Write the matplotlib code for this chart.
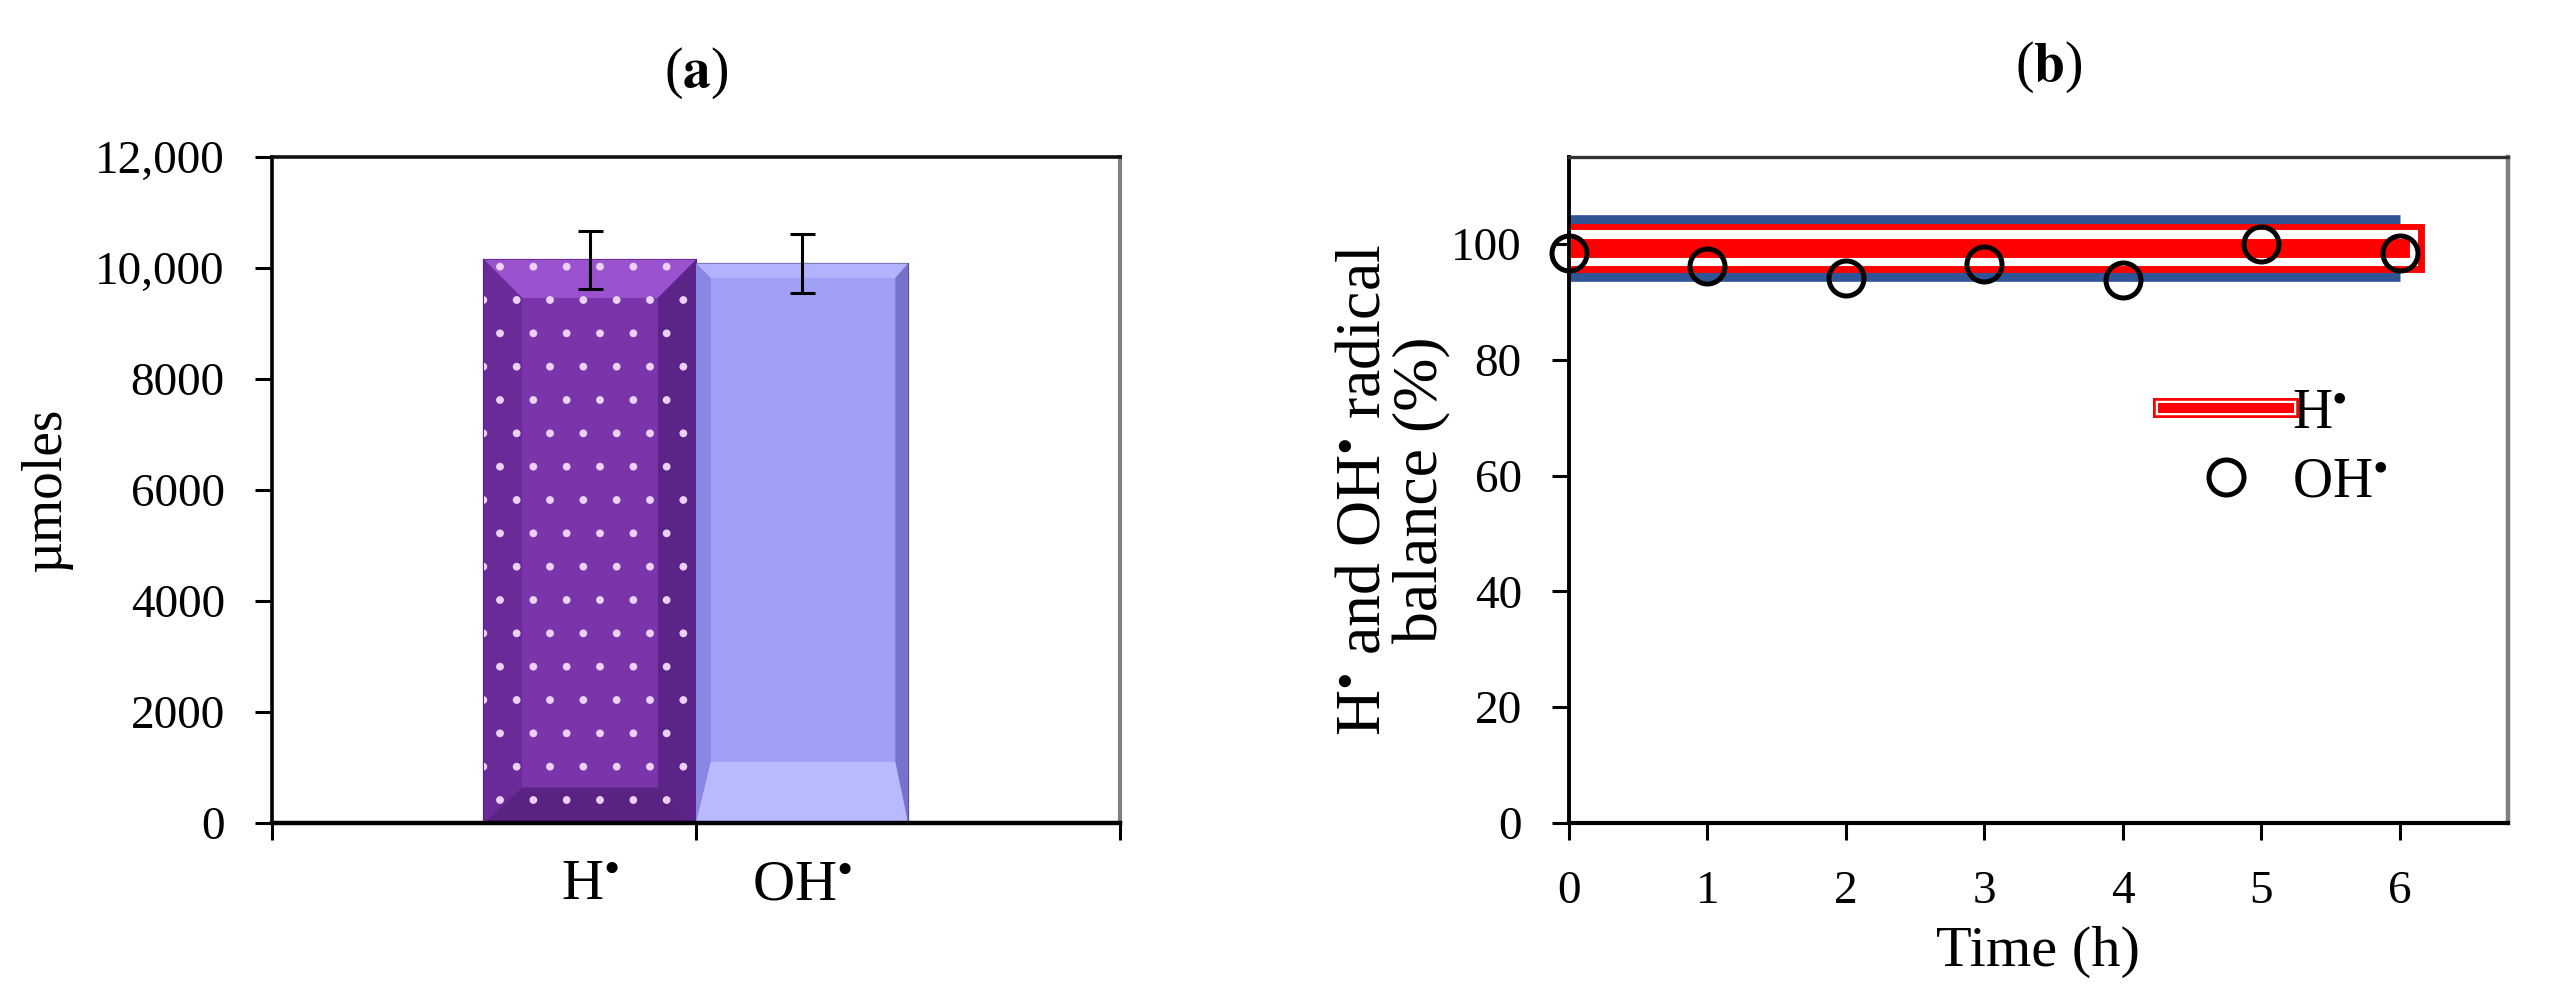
import matplotlib
matplotlib.use('Agg')
import matplotlib.pyplot as plt
import numpy as np
from matplotlib.patches import Polygon
from matplotlib.lines import Line2D
from matplotlib.legend_handler import HandlerTuple

plt.rcParams['font.family'] = ['Liberation Serif', 'DejaVu Serif']
plt.rcParams['mathtext.fontset'] = 'stix'
plt.rcParams['hatch.linewidth'] = 0.4

# ---------------- data: panel (a) ----------------
categories_a = ['H$^{\\bullet}$', 'OH$^{\\bullet}$']
values_a = [10150, 10080]
errors_a = [520, 530]
yticks_a = [0, 2000, 4000, 6000, 8000, 10000, 12000]
yticklabels_a = ['0', '2000', '4000', '6000', '8000', '10,000', '12,000']

# ---------------- data: panel (b) ----------------
time_h = [0, 1, 2, 3, 4, 5, 6]
h_balance = [99.3, 99.3, 99.3, 99.3, 99.3, 99.3, 99.3]
oh_balance = [98.4, 96.2, 94.1, 96.5, 93.8, 100.0, 98.4]
yticks_b = [0, 20, 40, 60, 80, 100]
xticks_b = [0, 1, 2, 3, 4, 5, 6]

DPI = 200
fig = plt.figure(figsize=(2557 / DPI, 1008 / DPI), dpi=DPI)
fig.patch.set_facecolor('white')

ax_a = fig.add_axes([272 / 2557, 1 - 823 / 1008, (1120 - 272) / 2557, (823 - 157) / 1008])
ax_b = fig.add_axes([1569 / 2557, 1 - 823 / 1008, (2508 - 1569) / 2557, (823 - 157) / 1008])

# ---------------- panel (a) ----------------
bar_w = 0.5
xpos = 1.0 + (np.arange(len(categories_a)) - 0.5) * bar_w
styles = [
    dict(base='#7a35aa', top='#9a52cf', left='#6a2a98', right='#5c2388', bot='#5a2282',
         ins=(0.09, 0.09, 690, 640), hatch=True, edge='#5a2282'),
    dict(base='#a0a0f7', top='#b2b2ff', left='#8888e4', right='#7474cc', bot='#b9b9ff',
         ins=(0.035, 0.03, 260, 1100), hatch=False, edge='#55558a'),
]
bars = ax_a.bar(xpos, values_a, width=bar_w, color=[s['base'] for s in styles],
                edgecolor=[s['edge'] for s in styles], linewidth=0.8, zorder=2)
for rect, s in zip(bars, styles):
    x0 = rect.get_x()
    x1 = x0 + rect.get_width()
    h = rect.get_height()
    dxl, dxr, dyt, dyb = s['ins']
    pieces = [
        ([(x0, h), (x1, h), (x1 - dxr, h - dyt), (x0 + dxl, h - dyt)], s['top']),
        ([(x0, 0), (x0, h), (x0 + dxl, h - dyt), (x0 + dxl, dyb)], s['left']),
        ([(x1, 0), (x1, h), (x1 - dxr, h - dyt), (x1 - dxr, dyb)], s['right']),
        ([(x0, 0), (x1, 0), (x1 - dxr, dyb), (x0 + dxl, dyb)], s['bot']),
    ]
    for pts, c in pieces:
        ax_a.add_patch(Polygon(pts, closed=True, facecolor=c, edgecolor='none', zorder=2.1))
    if s['hatch']:
        ax_a.bar(rect.get_x() + rect.get_width() / 2, h, width=rect.get_width(),
                 facecolor='none', edgecolor='#ecd2f7', linewidth=0, hatch='.', zorder=2.2)

ax_a.errorbar(xpos, values_a, yerr=errors_a, fmt='none', ecolor='black',
              elinewidth=1.1, capsize=4.5, capthick=1.1, zorder=5)

ax_a.set_xlim(0, 2)
ax_a.set_ylim(0, 12000)
ax_a.set_yticks(yticks_a)
ax_a.set_yticklabels(yticklabels_a)
ax_a.set_xticks([0, 1, 2])
ax_a.set_xticklabels(['', '', ''])
ax_a.set_xticks(xpos, minor=True)
ax_a.set_xticklabels(categories_a, minor=True)
ax_a.tick_params(axis='both', which='major', direction='out', length=6, width=1.1,
                 labelsize=17, pad=11, color='black')
ax_a.tick_params(axis='x', which='minor', length=0, labelsize=21, pad=13)
for side, c, lw in [('left', 'black', 1.3), ('bottom', 'black', 1.6),
                    ('top', '#111111', 1.3), ('right', '#808080', 1.5)]:
    ax_a.spines[side].set_color(c)
    ax_a.spines[side].set_linewidth(lw)
ax_a.set_ylabel('\u00b5moles', fontsize=20, rotation=90, ha='center')
ax_a.yaxis.set_label_coords(-0.236, 0.5)
ax_a.text(0.5, 1.126, '($\\mathbf{a}$)', transform=ax_a.transAxes, ha='center',
          va='center', fontsize=20)

# ---------------- panel (b) ----------------
ax_b.plot(time_h, h_balance, color='#2f5597', lw=24, solid_capstyle='butt', zorder=2)
ax_b.plot(time_h, h_balance, color='#ff0000', lw=17.6, solid_capstyle='projecting', zorder=2.1)
ax_b.plot(time_h, h_balance, color='#ffffff', lw=13, solid_capstyle='projecting', zorder=2.2)
ax_b.plot(time_h, h_balance, color='#ff0000', lw=6.8, solid_capstyle='projecting', zorder=2.3)
ax_b.plot(time_h, oh_balance, ls='none', marker='o', ms=12.6, mfc='none', mec='black',
          mew=1.8, zorder=5, clip_on=False)

ax_b.set_xlim(0, 6.78)
ax_b.set_ylim(0, 115)
ax_b.set_xticks(xticks_b)
ax_b.set_yticks(yticks_b)
ax_b.tick_params(axis='both', direction='out', length=6, width=1.1, labelsize=17,
                 pad=11, color='black')
for side, c, lw in [('left', 'black', 1.4), ('bottom', 'black', 1.5),
                    ('top', '#333333', 1.2), ('right', '#808080', 1.6)]:
    ax_b.spines[side].set_color(c)
    ax_b.spines[side].set_linewidth(lw)

ax_b.set_xlabel('Time (h)', fontsize=21)
ax_b.xaxis.set_label_coords(0.5, -0.155)
ax_b.set_ylabel('H$^{\\bullet}$ and OH$^{\\bullet}$ radical\nbalance (%)', fontsize=23,
                multialignment='center', linespacing=1.0)
ax_b.yaxis.set_label_coords(-0.125, 0.5)
ax_b.text(0.511, 1.134, '($\\mathbf{b}$)', transform=ax_b.transAxes, ha='center',
          va='center', fontsize=20)

h_handle = (Line2D([], [], color='#ff0000', lw=7.2),
            Line2D([], [], color='#ffffff', lw=5.2),
            Line2D([], [], color='#ff0000', lw=3.6))
oh_handle = Line2D([], [], ls='none', marker='o', ms=12.6, mfc='none', mec='black', mew=1.8)
ax_b.legend([h_handle, oh_handle], ['H$^{\\bullet}$', 'OH$^{\\bullet}$'],
            handler_map={tuple: HandlerTuple(ndivide=1, pad=0)},
            loc='center left', bbox_to_anchor=(0.633, 0.563), frameon=False,
            fontsize=20, handlelength=2.27, handletextpad=0.05, labelspacing=0.3,
            borderpad=0, borderaxespad=0)

fig.savefig('out.png', dpi=DPI, facecolor='white')
